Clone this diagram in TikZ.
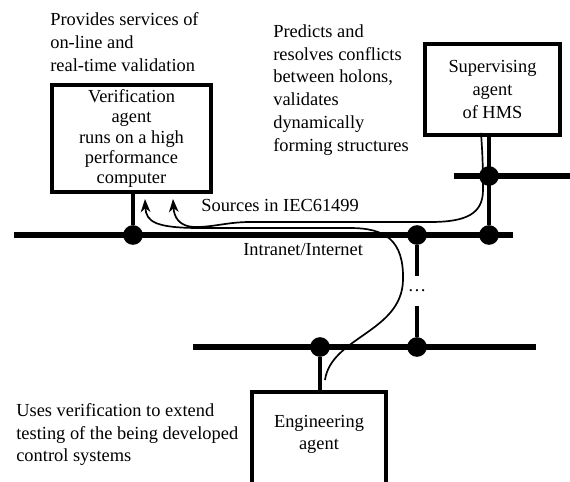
\documentclass[tikz,border=0pt]{standalone}
\usepackage{fontspec}
\setmainfont{Liberation Serif}
\usepackage{tikz}
\usetikzlibrary{arrows.meta,positioning,calc}

\begin{document}
\begin{tikzpicture}[x=0.0229cm, y=-0.0229cm,
  font=\fontsize{12}{14.9}\selectfont,
  bus/.style={line width=4.4pt},
  stub/.style={line width=3pt},
  joint/.style={circle, fill, inner sep=0pt, minimum size=0.45cm},
  agentbox/.style={draw, line width=2.6pt, align=center, inner sep=2pt},
  note/.style={anchor=west, align=left, inner sep=0pt},
  flow/.style={line width=1.1pt},
  arr/.style={-{Stealth[length=3mm,width=2.2mm,inset=0.9mm]}}]

\useasboundingbox (0,0) rectangle (570,481);
\clip (0,0) rectangle (570,481);

% ---------------------------------------------------------------- agents
\node[agentbox, minimum width=3.64cm, minimum height=2.45cm,
  font=\fontsize{12}{13.3}\selectfont] (ver) at (131.5,138.5)
  {Verification\\agent\\runs on a high\\performance\\computer};
\node[agentbox, minimum width=3.09cm, minimum height=2.08cm] (sup) at (492.5,89.5)
  {Supervising\\agent\\of HMS};
\node[agentbox, minimum width=3.07cm, minimum height=2.6cm, anchor=north] (eng)
  at (319,390) {};
\node[align=center, inner sep=0pt, font=\fontsize{12}{14.4}\selectfont] (engtxt)
  at (319,434) {Engineering\\agent};

% ----------------------------------------------------------------- buses
\draw[bus] (14,235) -- (513,235);
\draw[bus] (454,176) -- (570,176);
\draw[bus] (193,347) -- (536,347);
\node[font=\fontsize{12}{14}\selectfont, anchor=west, inner sep=0pt] (net)
  at (243,250) {Intranet/Internet};

% joints on the buses
\foreach \name/\x/\y in {j1/133/235, j2/417/235, j3/489/235,
                         j4/489/176, j5/320/347, j6/417/347}
  \node[joint] (\name) at (\x,\y) {};

% stubs to the agents and between buses
\draw[stub] (j1) -- (j1 |- ver.south);
\draw[stub] (j3) -- (j3 |- sup.south);
\draw[stub] (j5) -- (j5 |- eng.north);
\node[inner xsep=1pt, inner ysep=9pt] (gap) at (417,291) {\dots};
\draw[stub] (j2) -- (gap);
\draw[stub] (gap) -- (j6);

% ------------------------------------------------- sources to verification
\coordinate (engout) at ($(eng.north)+(6,-10)$);
\coordinate (supout) at ($(sup.south)+(-11.5,-4)$);
\coordinate (verin1) at ($(ver.south)+(13.5,5)$);
\coordinate (verin2) at ($(ver.south)+(41.5,5)$);

\draw[flow, arr] (engout) .. controls (331,337) and (402,332) .. (403,280)
  .. controls (404,240) and (385,228) .. (350,228) -- (200,228)
  .. controls (156,228) and (146,222) .. (verin1);
\draw[flow, arr] (supout) .. controls (483,160) and (483,175) .. (483,190)
  .. controls (483,214) and (466,222) .. (430,222) -- (250,222)
  .. controls (228,222) and (214,227) .. (196,227)
  .. controls (178,227) and (174,216) .. (verin2);
\node[note] (src) at (201,205) {Sources in IEC61499};

% ------------------------------------------------------------ annotations
\node[note] (vernote) at (50,42)
  {Provides services of\\on-line and\\real-time validation};
\node[note] (supnote) at (273,90)
  {Predicts and\\resolves conflicts\\between holons,\\validates\\dynamically\\forming structures};
\node[note, font=\fontsize{12}{14.6}\selectfont] (engnote) at (16,434.5)
  {Uses verification to extend\\testing of the being developed\\control systems};

\end{tikzpicture}
\end{document}
